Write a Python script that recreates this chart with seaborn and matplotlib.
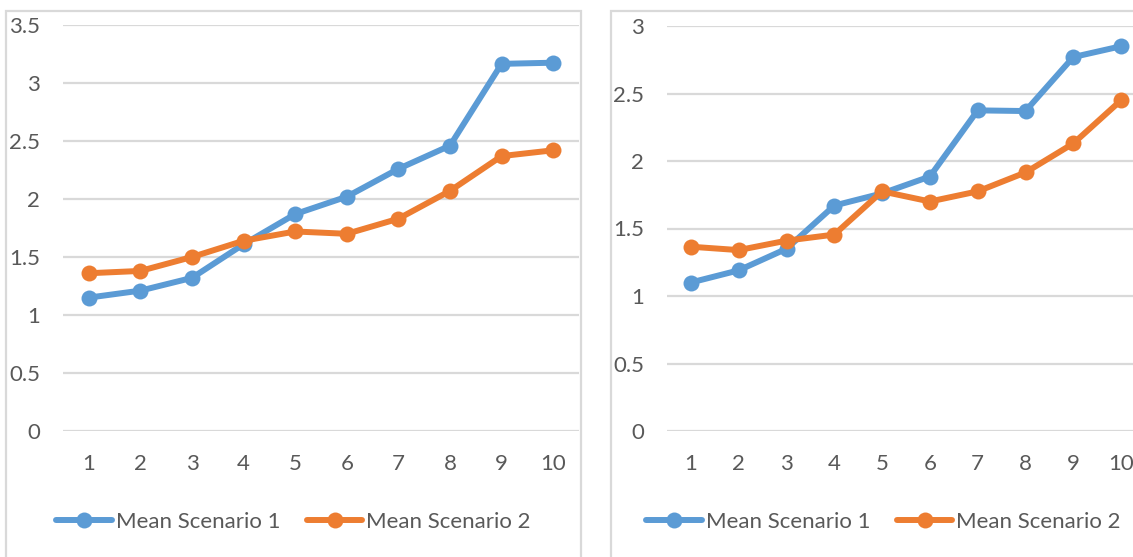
import matplotlib
matplotlib.use("Agg")
import matplotlib.pyplot as plt
import seaborn as sns
import pandas as pd
from matplotlib.patches import Rectangle

# ---- data ----
categories = [1, 2, 3, 4, 5, 6, 7, 8, 9, 10]
series_names = ["Mean Scenario 1", "Mean Scenario 2"]
left_s1 = [1.15, 1.21, 1.32, 1.61, 1.87, 2.02, 2.26, 2.46, 3.165, 3.175]
left_s2 = [1.36, 1.38, 1.50, 1.64, 1.72, 1.70, 1.83, 2.07, 2.37, 2.42]
right_s1 = [1.10, 1.19, 1.35, 1.67, 1.76, 1.885, 2.375, 2.37, 2.77, 2.85]
right_s2 = [1.365, 1.34, 1.41, 1.455, 1.775, 1.70, 1.775, 1.915, 2.13, 2.45]
left_yticks = [0, 0.5, 1, 1.5, 2, 2.5, 3, 3.5]
right_yticks = [0, 0.5, 1, 1.5, 2, 2.5, 3]
left_ytick_labels = ["0", "0.5", "1", "1.5", "2", "2.5", "3", "3.5"]
right_ytick_labels = ["0", "0.5", "1", "1.5", "2", "2.5", "3"]

def long_df(s1, s2):
    return pd.DataFrame({
        "x": [str(c) for c in categories] * 2,
        "y": s1 + s2,
        "series": [series_names[0]] * len(categories) + [series_names[1]] * len(categories),
    })

sns.set_theme(style="white")
plt.rcParams["font.family"] = ["Lato", "DejaVu Sans"]

W, H = 1133, 557
fig = plt.figure(figsize=(W / 100, H / 100), dpi=100)
fig.patch.set_facecolor("white")

palette = {series_names[0]: "#5B9BD5", series_names[1]: "#ED7D31"}
grid_c = "#D9D9D9"
text_c = "#595959"
fs = 16

def px(x0, y0, x1, y1):
    return [x0 / W, 1 - y1 / H, (x1 - x0) / W, (y1 - y0) / H]

# panel borders
panels = [(6, 581), (611, 1156)]
for (x0, x1) in panels:
    fig.patches.append(Rectangle((x0 / W, -0.05), (x1 - x0) / W, 1 - 11 / H + 0.05,
                                 transform=fig.transFigure, fill=False,
                                 edgecolor=grid_c, linewidth=1.6, zorder=0))

axes_specs = [
    (px(63, 25, 579, 431), left_s1, left_s2, left_yticks, 3.5, left_ytick_labels, panels[0]),
    (px(667, 26, 1145, 431), right_s1, right_s2, right_yticks, 3.0, right_ytick_labels, panels[1]),
]

for rect, s1, s2, yt, ymax, ytl, (pl, pr) in axes_specs:
    ax = fig.add_axes(rect)
    df = long_df(s1, s2)
    sns.lineplot(data=df, x="x", y="y", hue="series", palette=palette, ax=ax,
                 marker="o", markersize=11.5, linewidth=4.3, markeredgewidth=0,
                 sort=False)
    ax.set_xlim(-0.5, len(categories) - 0.5)
    ax.set_ylim(0, ymax)
    ax.set_yticks(yt)
    ax.set_yticklabels(ytl)
    ax.set_xlabel("")
    ax.set_ylabel("")
    for s in ax.spines.values():
        s.set_visible(False)
    ax.grid(axis="y", color=grid_c, linewidth=1.6)
    ax.grid(axis="x", visible=False)
    ax.set_axisbelow(True)
    ax.tick_params(axis="both", length=0, colors=text_c, labelsize=fs)
    ax.tick_params(axis="y", pad=16.5)
    ax.tick_params(axis="x", pad=16.5)
    ax.patch.set_alpha(0)
    handles, labels = ax.get_legend_handles_labels()
    ax.get_legend().remove()
    cx = ((pl + pr) / 2) / W
    fig.legend(handles, labels, loc="center",
               bbox_to_anchor=(cx, 1 - 522 / H), ncol=2, frameon=False,
               fontsize=fs, handlelength=2.5, handletextpad=0.18,
               columnspacing=1.2, labelcolor=text_c)

fig.savefig("out.png", dpi=100, facecolor="white")
